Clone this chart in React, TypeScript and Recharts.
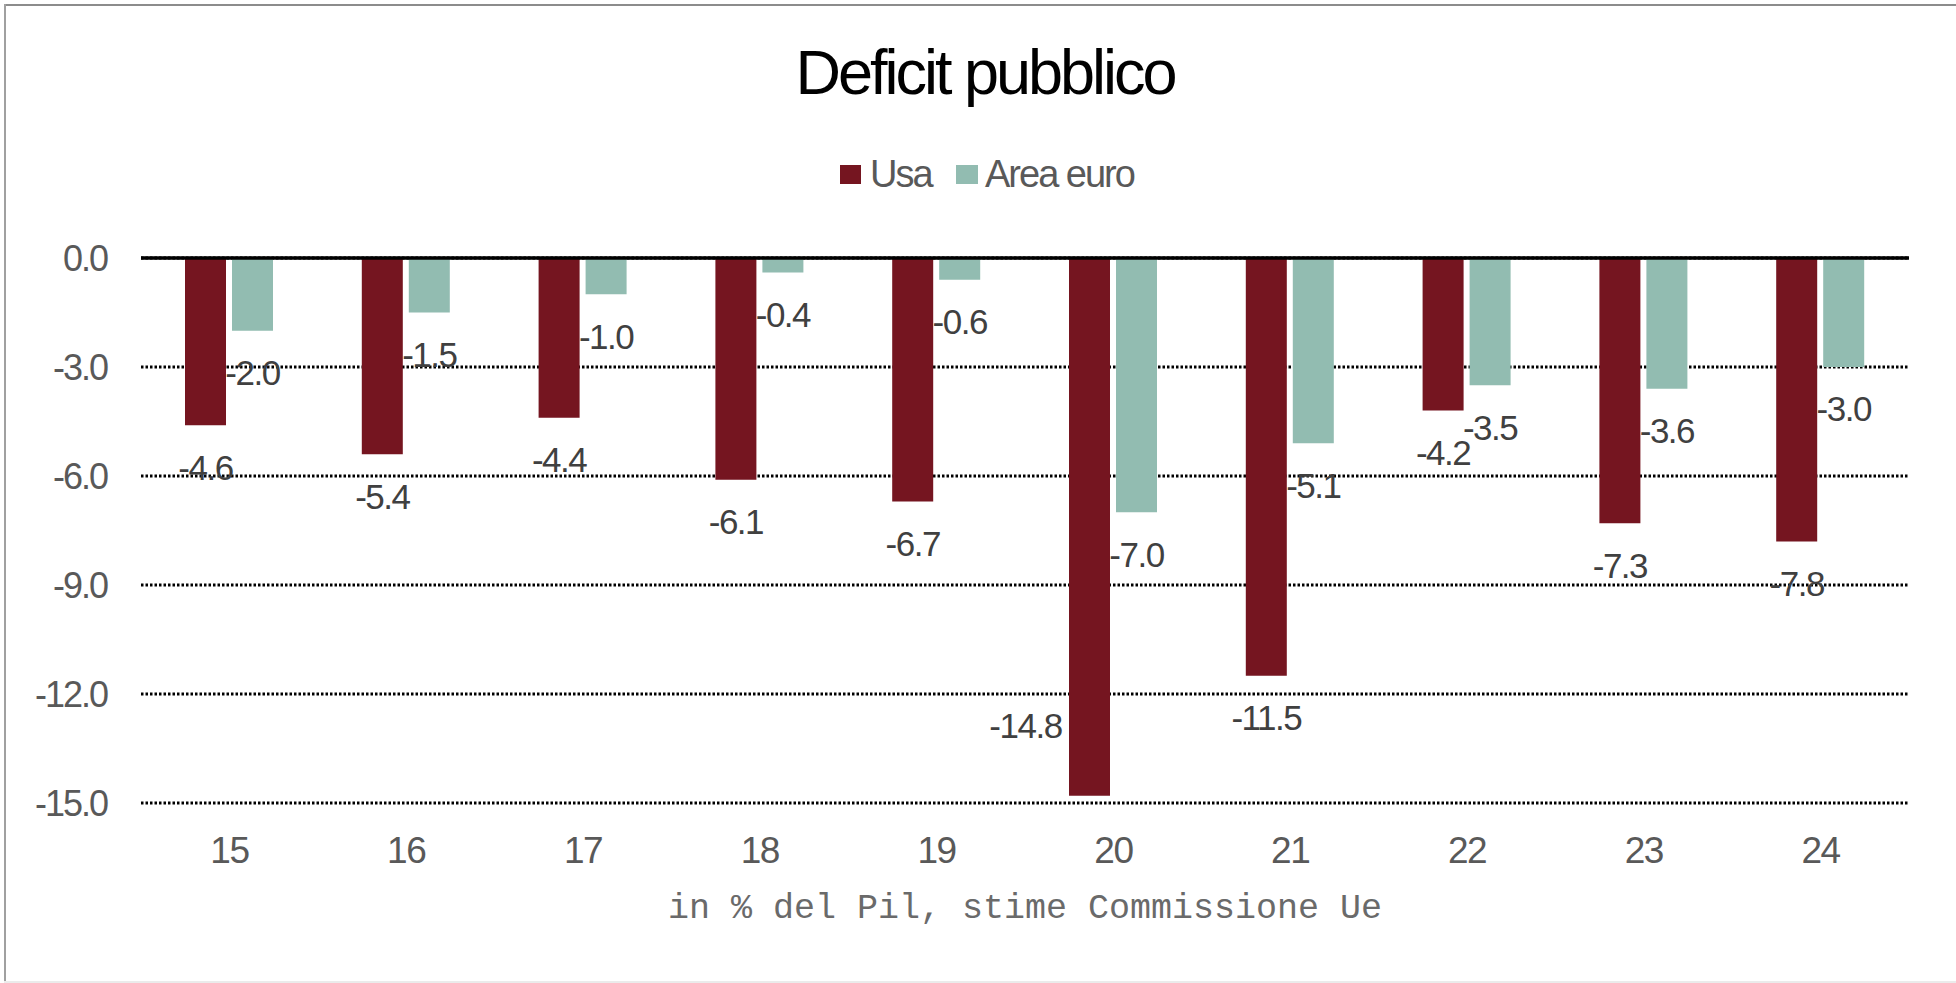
import React from 'react';
import { BarChart, Bar, XAxis, YAxis, CartesianGrid, ReferenceLine, LabelList } from 'recharts';

const years = ['15', '16', '17', '18', '19', '20', '21', '22', '23', '24'];
const usa = [-4.6, -5.4, -4.4, -6.1, -6.7, -14.8, -11.5, -4.2, -7.3, -7.8];
const areaEuro = [-2.0, -1.5, -1.0, -0.4, -0.6, -7.0, -5.1, -3.5, -3.6, -3.0];
const yTicks = [0, -3, -6, -9, -12, -15];

const series = [
  { key: 'usa', name: 'Usa', color: '#751520' },
  { key: 'euro', name: 'Area euro', color: '#92bcb1' },
];

const data = years.map((y, i) => ({ year: y, usa: usa[i], euro: areaEuro[i] }));

const W = 1956;
const H = 983;
const PLOT_TOP = 258;
const PLOT_BOTTOM = 803;
const X_AXIS_H = 60;
const FONT = "'Liberation Sans', Arial, sans-serif";

// excel style: value sits a bit below the bar end, moved beside the bar when it would hit the axis
const BarLabel = (props: any) => {
  const { x, y, width, height, value } = props;
  if (value == null) return null;
  const bottom = Math.max(y, y + height);
  let cx = x + width / 2;
  let cy = bottom + 42;
  if (cy + 15 > PLOT_BOTTOM) {
    cx = cx - 64;
    cy = bottom - 70;
  }
  return (
    <text
      x={cx}
      y={cy + 35 * 0.355}
      textAnchor="middle"
      fontSize={35}
      fontFamily={FONT}
      fill="#404040"
      letterSpacing={-1.5}
    >
      {Number(value).toFixed(1)}
    </text>
  );
};

export default function App() {
  return (
    <div style={{ position: 'absolute', left: 0, top: 0, width: W, height: H, background: '#fff', overflow: 'hidden' }}>
      <div style={{ position: 'absolute', left: 4, top: 4, width: W - 4, height: 2, background: '#8c8c8c' }} />
      <div style={{ position: 'absolute', left: 4, top: 4, width: 2, height: H - 5, background: '#a0a0a0' }} />
      <div style={{ position: 'absolute', left: 4, top: H - 2, width: W - 4, height: 2, background: '#ebebeb' }} />

      <div style={{ position: 'absolute', left: 0, top: 0 }}>
        <BarChart
          width={W}
          height={H}
          data={data}
          margin={{ top: PLOT_TOP, right: 47, bottom: H - PLOT_BOTTOM - X_AXIS_H, left: 0 }}
          barCategoryGap={44}
          barGap={6}
        >
          <CartesianGrid vertical={false} stroke="#000" strokeWidth={3} strokeDasharray="2.5 2" />
          <XAxis
            dataKey="year"
            height={X_AXIS_H}
            axisLine={false}
            tickLine={false}
            tickSize={0}
            tickMargin={34}
            interval={0}
            tick={{ fontSize: 37, fill: '#595959', fontFamily: FONT, letterSpacing: -1.5 }}
          />
          <YAxis
            width={141}
            domain={[-15, 0]}
            ticks={yTicks}
            allowDataOverflow
            axisLine={false}
            tickLine={false}
            tickSize={0}
            tickMargin={34}
            tickFormatter={(v: number) => v.toFixed(1)}
            tick={{ fontSize: 36, fill: '#595959', fontFamily: FONT, letterSpacing: -2 }}
          />
          {series.map((s) => (
            <Bar key={s.key} dataKey={s.key} name={s.name} fill={s.color} isAnimationActive={false}>
              <LabelList dataKey={s.key} content={BarLabel} />
            </Bar>
          ))}
          <ReferenceLine y={0} stroke="#000" strokeWidth={3.5} />
        </BarChart>
      </div>

      <svg width={W} height={H} style={{ position: 'absolute', left: 0, top: 0, pointerEvents: 'none' }}>
        <text x={985} y={94} textAnchor="middle" fontSize={63} fontFamily={FONT} fill="#000" letterSpacing={-3}>
          Deficit pubblico
        </text>
        <rect x={840} y={165} width={21} height={19} fill={series[0].color} />
        <text x={870} y={187} fontSize={38} fontFamily={FONT} fill="#595959" letterSpacing={-2}>
          {series[0].name}
        </text>
        <rect x={956} y={165} width={22} height={19} fill={series[1].color} />
        <text x={985} y={187} fontSize={38} fontFamily={FONT} fill="#595959" letterSpacing={-2}>
          {series[1].name}
        </text>
        <text
          x={1025}
          y={918}
          textAnchor="middle"
          fontSize={35}
          fontFamily="'Liberation Mono', 'Courier New', monospace"
          fill="#6a6a6a"
        >
          in % del Pil, stime Commissione Ue
        </text>
      </svg>
    </div>
  );
}
